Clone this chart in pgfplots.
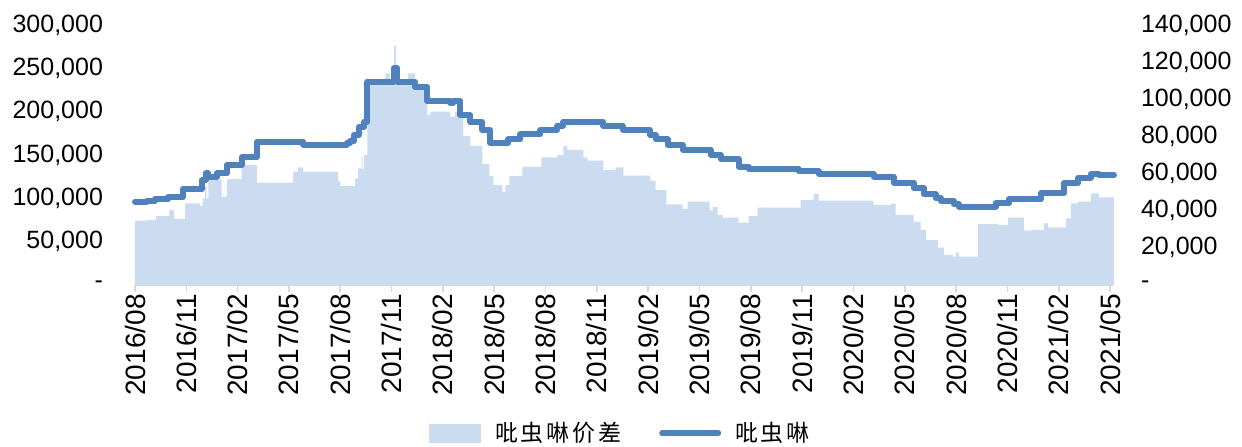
\documentclass[border=0pt]{standalone}
\usepackage{pgfplots}
\pgfplotsset{compat=1.18}
\usepackage{fontspec}
\setmainfont{Liberation Sans}
\newfontfamily\cjk[LetterSpace=12]{Noto Sans CJK SC}
\definecolor{areafill}{HTML}{CCDCF0}
\definecolor{lineblue}{HTML}{4F81BD}
\definecolor{axisgray}{HTML}{D9D9D9}

% x = months since 2016/08
\pgfplotsset{
  twin/.style={
    width=489.5pt, height=130pt, scale only axis,
    at={(0,0)}, anchor=south west,
    xmin=0, xmax=57.23, clip=false,
    font=\fontsize{12.5}{14}\selectfont,
    /pgf/number format/assume math mode=true,
    scaled y ticks=false,
    y axis line style={draw=none},
    ytick style={draw=none},
  }
}

\begin{document}
\begin{tikzpicture}
\path[use as bounding box] (-67.5pt,-80.5pt) rectangle (553.5pt,142.5pt);

\begin{axis}[twin,
  ymin=0, ymax=300000,
  axis x line*=bottom, axis y line*=left,
  x axis line style={-, draw=axisgray, line width=1pt},
  xtick={0,3,...,57},
  xticklabels={2016/08,2016/11,2017/02,2017/05,2017/08,2017/11,2018/02,2018/05,2018/08,2018/11,2019/02,2019/05,2019/08,2019/11,2020/02,2020/05,2020/08,2020/11,2021/02,2021/05},
  xtick style={draw=axisgray, line width=0.8pt},
  tick align=outside, major tick length=3.5pt,
  xticklabel style={rotate=90, anchor=east, inner sep=1pt, font=\fontsize{14}{16}\selectfont},
  ytick={0,50000,100000,150000,200000,250000,300000},
  yticklabels={-,{50,000},{100,000},{150,000},{200,000},{250,000},{300,000}},
  yticklabel style={anchor=east, xshift=-9pt},
]
\addplot[const plot, fill=areafill, draw=none] coordinates {
(0,74200) (0.68,75000) (1.23,79600) (2.01,86500) (2.28,76200) (2.93,94200) (3.80,91300) (3.96,100000) (4.10,113400) (4.18,100000) (4.29,121000) (5.07,101900) (5.37,122300) (6.24,138500) (7.12,118000) (9.25,130700) (9.54,135800) (9.83,130700) (11.88,120000) (12.00,114200) (12.87,123100) (13.05,134600) (13.25,148000) (13.31,134000) (13.40,150000) (13.58,230800) (13.75,232700) (14.63,244200) (14.92,236500) (15.15,275800) (15.27,236500) (15.97,244200) (16.38,230800) (17.09,196200) (17.26,200000) (18.43,194200) (18.72,200000) (19.13,194000) (19.19,171900) (19.60,160400) (20.30,139600) (20.71,125800) (20.95,115400) (21.47,107700) (21.65,115400) (21.88,125800) (22.64,136500) (23.76,147300) (24.69,150000) (25.04,160400) (25.28,155800) (26.21,147300) (26.45,143500) (27.38,132700) (28.09,135800) (28.55,126100) (30.13,120400) (30.43,109600) (31.07,93100) (32.01,87700) (32.30,96100) (33.59,86000) (33.76,90000) (34.06,80800) (34.35,77700) (35.28,71900) (35.87,79600) (36.40,89200) (38.91,98100) (39.67,105000) (39.96,97300) (43.18,92300) (44.18,94000) (44.47,80800) (45.52,73000) (45.93,63500) (46.23,51900) (46.93,43100) (47.28,34600) (47.81,32700) (47.98,37700) (48.16,32700) (49.27,70400) (50.44,69200) (51.02,77700) (51.96,62700) (52.37,63500) (53.13,71200) (53.37,66500) (54.42,77000) (54.71,94200) (55.12,96100) (55.88,105800) (56.35,101200) (57.23,101200)
} \closedcycle;
\end{axis}

\begin{axis}[twin,
  ymin=0, ymax=140000,
  axis y line*=right, axis x line=none,
  ytick={0,20000,40000,60000,80000,100000,120000,140000},
  yticklabels={-,{20,000},{40,000},{60,000},{80,000},{100,000},{120,000},{140,000}},
  yticklabel style={anchor=west, xshift=10pt},
  legend style={at={(0.497,-0.57)}, anchor=center, draw=none, fill=none,
    legend columns=2, font=\cjk\fontsize{11.5}{13}\selectfont,
    /tikz/every odd column/.append style={column sep=5pt},
    /tikz/every even column/.append style={column sep=17pt}},
]
\addlegendimage{legend image code/.code={\fill[areafill] (0pt,-4.5pt) rectangle (25.5pt,4.5pt);}}
\addlegendentry{吡虫啉价差}
\addplot[const plot, draw=lineblue, line width=3pt, line join=round, line cap=round,
  legend image code/.code={\draw[lineblue, line width=3pt, line cap=round] (0pt,0pt) -- (28pt,0pt);}] coordinates {
(0,44900) (0.68,45400) (1.17,46100) (1.95,47500) (2.83,51700) (3.90,56500) (4.13,60100) (4.29,58000) (4.78,60100) (5.37,64600) (6.24,68800) (7.12,77200) (9.85,75600) (12.39,76500) (12.58,77500) (12.81,80800) (13.11,85200) (13.40,87900) (13.58,109500) (15.13,116700) (15.33,109500) (16.38,106800) (17.09,99100) (18.43,98000) (18.61,99100) (19.02,91500) (19.60,87900) (20.30,83500) (20.77,76600) (21.83,78400) (22.53,81100) (23.70,83500) (24.69,85800) (25.04,87900) (27.38,85600) (28.50,83500) (30.13,80800) (30.43,78400) (31.13,75400) (32.01,72700) (33.65,70000) (34.23,67900) (35.28,63700) (35.87,62300) (38.79,61200) (39.96,59800) (43.18,58300) (44.35,55100) (45.52,52100) (46.11,48800) (46.81,46700) (47.10,45400) (47.86,43500) (48.16,42200) (50.32,44000) (51.08,46100) (52.96,49400) (54.30,54800) (55.12,57800) (55.88,59800) (56.35,59100) (57.23,59100)
};
\addlegendentry{吡虫啉}
\end{axis}
\end{tikzpicture}
\end{document}
